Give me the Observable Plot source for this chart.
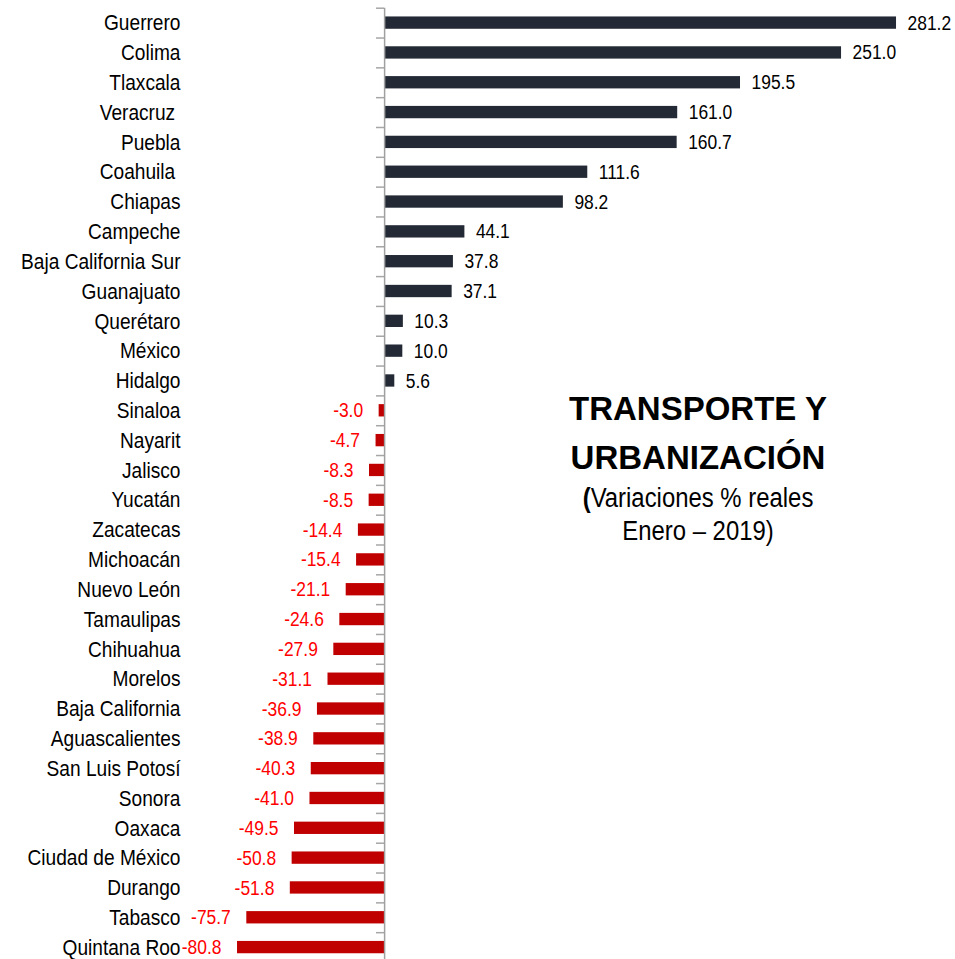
<!DOCTYPE html>
<html>
<head>
<meta charset="utf-8">
<script src="https://cdn.jsdelivr.net/npm/d3@7"></script>
<script src="https://cdn.jsdelivr.net/npm/@observablehq/plot@0.6"></script>
<style>
  html, body { margin: 0; padding: 0; background: #fff; overflow: hidden; }
  #wrap { position: relative; width: 955px; height: 959px; }
  .tl { position: absolute; left: 540px; width: 316px; text-align: center; color: #000; white-space: nowrap;
        font-family: "Liberation Sans", Arial, sans-serif; }
  .t { font-weight: bold; font-size: 33px; line-height: 33px; }
  .s { font-size: 27px; line-height: 27px; transform: scaleX(0.885); transform-origin: 50% 50%; }
</style>
</head>
<body>
<div id="wrap">
  <div id="chart"></div>
  <div class="tl t" style="top:392px">TRANSPORTE Y</div>
  <div class="tl t" style="top:441px">URBANIZACIÓN</div>
  <div class="tl s" style="top:485px"><b>(</b>Variaciones % reales</div>
  <div class="tl s" style="top:518px">Enero – 2019)</div>
</div>
<script>
const states = ["Guerrero", "Colima", "Tlaxcala", "Veracruz\u00a0", "Puebla", "Coahuila\u00a0", "Chiapas",
  "Campeche", "Baja California Sur", "Guanajuato", "Querétaro", "México", "Hidalgo", "Sinaloa",
  "Nayarit", "Jalisco", "Yucatán", "Zacatecas", "Michoacán", "Nuevo León", "Tamaulipas",
  "Chihuahua", "Morelos", "Baja California", "Aguascalientes", "San Luis Potosí", "Sonora",
  "Oaxaca", "Ciudad de México", "Durango", "Tabasco", "Quintana Roo"];
const values = [281.2, 251.0, 195.5, 161.0, 160.7, 111.6, 98.2, 44.1, 37.8, 37.1, 10.3, 10.0, 5.6,
  -3.0, -4.7, -8.3, -8.5, -14.4, -15.4, -21.1, -24.6, -27.9, -31.1, -36.9, -38.9, -40.3, -41.0,
  -49.5, -50.8, -51.8, -75.7, -80.8];

const data = states.map((s, i) => ({state: s, value: values[i]}));
const font = "'Liberation Sans', Arial, sans-serif";
const step = 29.82;

const chart = Plot.plot({
  width: 955,
  height: 962,
  marginTop: 7.7,
  marginBottom: 0,
  marginLeft: 0,
  marginRight: 0,
  style: {fontFamily: font, background: "white"},
  x: {domain: [-211, 313.6], axis: null},
  y: {domain: states, padding: 0, round: false, axis: null},
  color: {type: "identity"},
  marks: [
    Plot.barX(data, {x: "value", y: "state",
      fill: d => d.value >= 0 ? "#232a36" : "#c00000",
      insetTop: 8.75, insetBottom: 8.75}),
    Plot.tickY(states, {y: d => d, stroke: "#a6a6a6", strokeWidth: 1.5,
      insetLeft: 376, insetRight: 571, dy: -step / 2}),
    Plot.ruleX([0], {stroke: "#a0a0a0", strokeWidth: 1.5}),
    Plot.axisY({anchor: "left", tickSize: 0, tickPadding: 0, dx: 180,
      fontSize: 22.5, fill: "#000", label: null}),
    Plot.text(data.filter(d => d.value >= 0), {x: "value", y: "state",
      text: d => d.value.toFixed(1), textAnchor: "start", dx: 11,
      fontSize: 20.5, fill: "#000"}),
    Plot.text(data.filter(d => d.value < 0), {x: "value", y: "state",
      text: d => d.value.toFixed(1), textAnchor: "end", dx: -16,
      fontSize: 20.5, fill: "#ff0000"})
  ]
});
// emulate the condensed typeface of the original: squeeze every label horizontally around its anchor
d3.select(chart).selectAll("text").each(function () {
  const t = this.getAttribute("transform") || "";
  this.setAttribute("transform", t + " scale(0.85,1)");
});
document.getElementById("chart").appendChild(chart);
</script>
</body>
</html>
